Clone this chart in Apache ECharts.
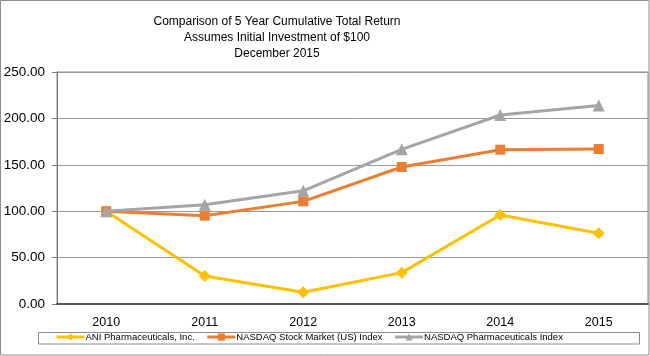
<!DOCTYPE html>
<html>
<head>
<meta charset="utf-8">
<script src="https://cdn.jsdelivr.net/npm/echarts@6/dist/echarts.min.js"></script>
<style>html,body{margin:0;padding:0;background:#fff}#c{width:650px;height:356px}</style>
</head>
<body>
<div id="c"></div>
<script>
var titleLines = ['Comparison of 5 Year Cumulative Total Return', 'Assumes Initial Investment of $100', 'December 2015'];
var years = ['2010', '2011', '2012', '2013', '2014', '2015'];
var seriesNames = ['ANI Pharmaceuticals, Inc.', 'NASDAQ Stock Market (US) Index', 'NASDAQ Pharmaceuticals Index'];
var aniValues = [100, 30.2, 12.6, 33.8, 95.9, 76.2];
var nasdaqValues = [100, 95.2, 110.6, 147.6, 166.3, 167.0];
var pharmaValues = [100, 107.0, 122.0, 166.7, 203.7, 213.9];
var yTicks = [0, 50, 100, 150, 200, 250];

var colors = ['#FFC000', '#ED7D31', '#A5A5A5'];
var symbols = ['diamond', 'rect', 'triangle'];
var symbolSizes = [12, 10, 12];
var allValues = [aniValues, nasdaqValues, pharmaValues];

var chart = echarts.init(document.getElementById('c'), null, {renderer: 'canvas'});
var series = seriesNames.map(function (n, i) {
  return {
    name: n,
    type: 'line',
    data: allValues[i],
    symbol: symbols[i],
    symbolSize: symbolSizes[i],
    showAllSymbol: true,
    lineStyle: {color: colors[i], width: 3},
    itemStyle: {color: colors[i]},
    z: 2 + i,
    animation: false
  };
});

chart.setOption({
  animation: false,
  color: colors,
  title: {
    text: titleLines.join('\n'),
    left: 272,
    top: 9,
    textAlign: 'center',
    textStyle: {fontFamily: 'Liberation Sans', fontSize: 12, fontWeight: 'normal', color: '#000', lineHeight: 16}
  },
  graphic: [
    {type: 'rect', shape: {x: 0.5, y: 0.5, width: 648.5, height: 354.5}, style: {fill: 'none', stroke: '#8c8c8c', lineWidth: 1}, z: 0},
    {type: 'rect', shape: {x: 38.5, y: 332.5, width: 601, height: 11.5}, style: {fill: '#fff', stroke: '#8c8c8c', lineWidth: 1}, z: 0}
  ],
  legend: {
    left: 55,
    top: 332,
    padding: 0,
    itemWidth: 28,
    itemHeight: 9,
    itemGap: 11,
    lineStyle: {width: 3},
    textStyle: {fontFamily: 'Liberation Sans', fontSize: 9.5, color: '#000', padding: [1, 0, 0, -4]},
    data: seriesNames
  },
  grid: {left: 57, right: 2, top: 72, bottom: 52, show: true, borderColor: '#8c8c8c', borderWidth: 1},
  xAxis: {
    type: 'category',
    data: years,
    boundaryGap: true,
    axisLine: {lineStyle: {color: '#555', width: 2}},
    axisTick: {inside: true, length: 4, alignWithLabel: true, lineStyle: {color: '#777'}},
    axisLabel: {fontFamily: 'Liberation Sans', fontSize: 12.5, color: '#000', margin: 12},
    splitLine: {show: false}
  },
  yAxis: {
    type: 'value',
    min: yTicks[0],
    max: yTicks[yTicks.length - 1],
    interval: yTicks[1] - yTicks[0],
    axisLine: {show: true, lineStyle: {color: '#777', width: 1}},
    axisTick: {show: true, length: 5, lineStyle: {color: '#777'}},
    axisLabel: {fontFamily: 'Liberation Sans', fontSize: 13.5, color: '#000', margin: 12, formatter: function (v) { return v.toFixed(2); }},
    splitLine: {lineStyle: {color: '#999', width: 1}}
  },
  series: series
});
</script>
</body>
</html>
